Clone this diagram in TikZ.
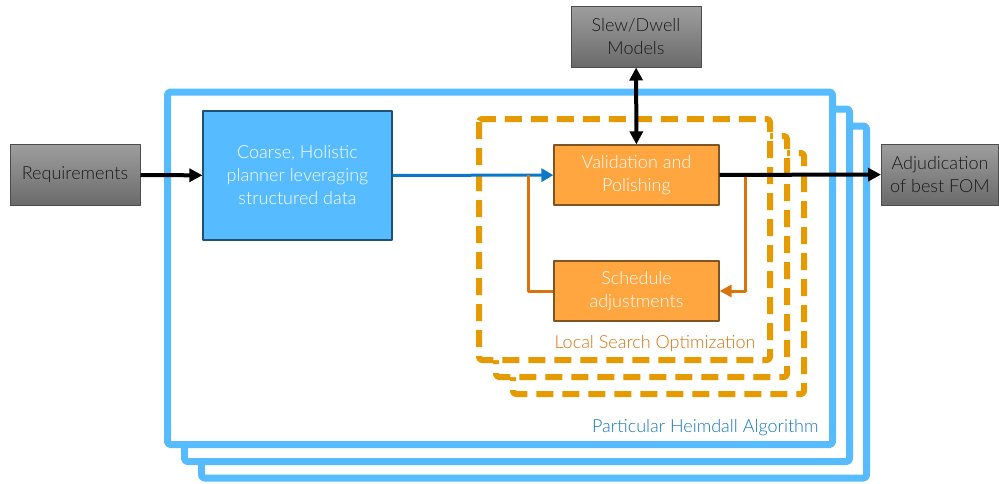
\documentclass[tikz,border=0pt]{standalone}
\usepackage{fontspec}
\setmainfont{Lato}[UprightFont=* Light]
\usetikzlibrary{arrows.meta}
\definecolor{frameblue}{RGB}{86,187,255}
\definecolor{arrowblue}{RGB}{10,120,200}
\definecolor{textblue}{RGB}{20,120,190}
\definecolor{lsoorange}{RGB}{229,155,0}
\definecolor{boxorange}{RGB}{255,166,64}
\definecolor{loopbrown}{RGB}{217,115,13}
\definecolor{edgebrown}{RGB}{125,85,35}
\definecolor{edgeblue}{RGB}{30,80,120}
\definecolor{graytop}{RGB}{158,158,158}
\definecolor{graybot}{RGB}{106,106,106}
\tikzset{
  graybox/.style={draw=black!70, line width=1pt, top color=graytop, bottom color=graybot,
    text=black!90, align=center, inner sep=0pt},
  orangebox/.style={draw=edgebrown, line width=1.2pt, fill=boxorange, text=white,
    align=center, inner sep=0pt, minimum width=165pt, minimum height=60pt},
  algframe/.style={draw=frameblue, line width=7pt, fill=white, rounded corners=3pt},
  lsoframe/.style={draw=lsoorange, line width=6pt, fill=white, rounded corners=3pt,
    dash pattern=on 17pt off 9pt},
  looparrow/.style={draw=loopbrown, line width=3pt}
}
\begin{document}
\begin{tikzpicture}[x=1pt, y=-1pt, font=\fontsize{18}{23}\selectfont,
  line join=round, >={Triangle[length=13pt,width=13pt]}]
\useasboundingbox (0,0) rectangle (999,483);
% algorithm frames, back to front
\draw[algframe] (201.5,126) rectangle (866.5,478);
\draw[algframe] (184.5,109) rectangle (849.5,461.5);
\draw[algframe] (167.5,92) rectangle (832.5,444.5);
\node[textblue, anchor=east] (algname) at (822,428) {Particular Heimdall Algorithm};
% local search frames
\draw[lsoframe] (513,153) rectangle (804,394);
\draw[lsoframe] (496,136) rectangle (787,377);
\draw[lsoframe] (479,119) rectangle (770,360);
\node[loopbrown, anchor=east] (lsoname) at (759,344) {Local Search Optimization};
% boxes
\node[graybox, minimum width=130pt, minimum height=61pt] (req) at (75,175) {Requirements};
\node[draw=edgeblue, line width=1.2pt, fill=frameblue, text=white, align=center,
  minimum width=189pt, minimum height=129pt, inner sep=0pt] (coarse) at (297.5,175.5)
  {Coarse, Holistic\\planner leveraging\\structured data};
\node[orangebox] (val) at (636.5,175) {Validation and\\Polishing};
\node[orangebox] (sched) at (636.5,291) {Schedule\\adjustments};
\node[graybox, minimum width=130pt, minimum height=61pt] (slew) at (636,36.5) {Slew/Dwell\\Models};
\node[graybox, minimum width=117pt, minimum height=61pt] (adj) at (940,174.5) {Adjudication\\of best FOM};
% connectors
\draw[->, line width=4pt] (req) -- (coarse);
\draw[->, arrowblue, line width=3pt, >={Triangle[length=12pt,width=13pt]}] (coarse) -- (val);
\draw[<->, line width=4pt] (slew) -- (val);
\draw[looparrow] (sched.west) -| ([xshift=-25pt]val.west);
\draw[looparrow, ->, >={Triangle[length=12pt,width=12pt]}] ([xshift=26pt]val.east) |- (sched.east);
\draw[->, line width=4pt] (val) -- (adj);
\end{tikzpicture}
\end{document}
